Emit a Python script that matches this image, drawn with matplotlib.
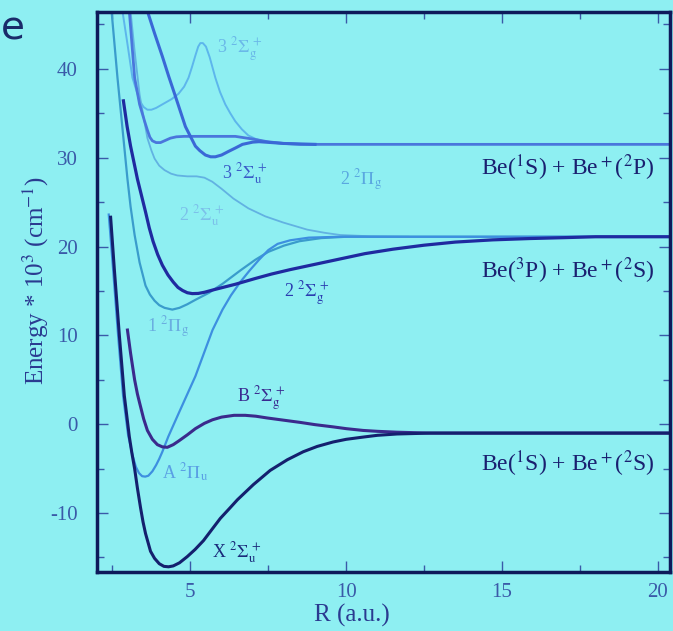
import matplotlib
matplotlib.use("Agg")
import matplotlib.pyplot as plt
from matplotlib.ticker import MultipleLocator

# potential curves of Be2+, R in a.u., energy in 10^3 cm^-1
X_R = [2.44, 2.56, 2.72, 2.88, 3.04, 3.12, 3.21, 3.30, 3.40, 3.48, 3.56, 3.72, 3.85, 4.0,
       4.15, 4.3, 4.45, 4.65, 4.90, 5.15, 5.42, 5.7, 5.96, 6.25, 6.51, 7.02, 7.56, 8.11,
       8.62, 9.07, 9.58, 10.0, 10.54, 11.0, 11.63, 12.7, 20.4]
X_E = [23.3, 17.4, 10.0, 3.2, -1.4, -3.2, -5.0, -7.2, -9.4, -11.0, -12.3, -14.3, -15.1, -15.7,
       -16.0, -16.05, -15.95, -15.6, -14.9, -14.1, -13.1, -11.8, -10.6, -9.5, -8.5, -6.8, -5.2, -4.0,
       -3.1, -2.5, -2.0, -1.7, -1.45, -1.25, -1.1, -1.0, -1.0]

A_R = [2.38, 2.52, 2.68, 2.84, 3.0, 3.15, 3.25, 3.35, 3.45, 3.55, 3.65, 3.78, 3.9, 4.0,
       4.10, 4.29, 4.62, 5.16, 5.71, 6.03, 6.3, 6.6, 6.9, 7.2, 7.5, 7.8, 8.2, 8.8, 9.8, 20.4]
A_E = [23.6, 17.4, 10.0, 3.2, -1.2, -3.6, -4.8, -5.5, -5.85, -5.9, -5.8, -5.3, -4.6, -3.9,
       -3.1, -1.4, 1.2, 5.4, 10.6, 12.9, 14.5, 16.0, 17.3, 18.5, 19.6, 20.3, 20.7, 21.0, 21.1, 21.1]

B_R = [2.98, 3.08, 3.21, 3.30, 3.37, 3.5, 3.62, 3.78, 3.94, 4.1, 4.26, 4.45, 4.62, 4.9,
       5.16, 5.45, 5.71, 6.0, 6.4, 6.76, 7.1, 7.47, 8.0, 8.53, 9.0, 9.58, 10.0, 10.54,
       11.0, 11.63, 12.7, 20.4]
B_E = [10.6, 8.0, 5.0, 3.4, 2.4, 0.6, -0.7, -1.7, -2.3, -2.55, -2.6, -2.3, -1.9, -1.2,
       -0.5, 0.1, 0.5, 0.8, 1.0, 1.0, 0.9, 0.7, 0.45, 0.2, -0.05, -0.3, -0.5, -0.7,
       -0.8, -0.9, -1.0, -1.0]

PIG1_R = [2.47, 2.66, 2.82, 2.98, 3.08, 3.21, 3.37, 3.56, 3.7, 3.85, 4.0, 4.17, 4.42, 4.65,
          4.9, 5.16, 5.6, 6.03, 6.6, 7.08, 7.5, 8.0, 8.5, 9.2, 10.0, 20.4]
PIG1_E = [46.5, 39.0, 33.3, 27.6, 24.5, 21.3, 18.2, 15.6, 14.6, 13.9, 13.4, 13.1, 12.9, 13.1,
          13.5, 14.0, 14.8, 15.8, 17.3, 18.5, 19.4, 20.1, 20.6, 20.95, 21.1, 21.1]

SGG2_R = [2.85, 2.97, 3.08, 3.30, 3.56, 3.68, 3.8, 3.95, 4.1, 4.28, 4.45, 4.6, 4.75, 4.9,
          5.06, 5.25, 5.45, 5.71, 6.1, 6.44, 7.08, 7.6, 8.2, 9.0, 9.8, 10.6, 11.5, 12.5,
          13.5, 14.7, 15.9, 17.0, 18.0, 20.4]
SGG2_E = [36.4, 33.5, 31.3, 27.6, 23.9, 22.1, 20.6, 19.1, 17.9, 16.8, 16.0, 15.4, 15.05, 14.8,
          14.7, 14.72, 14.85, 15.1, 15.45, 15.75, 16.4, 16.9, 17.4, 18.0, 18.6, 19.2, 19.7, 20.15,
          20.5, 20.75, 20.9, 21.0, 21.1, 21.1]

SGU2_R = [3.08, 3.21, 3.37, 3.62, 3.75, 3.85, 4.0, 4.17, 4.38, 4.58, 4.9, 5.2, 5.45, 5.7,
          6.0, 6.38, 6.86, 7.4, 7.98, 8.75, 9.3, 9.8, 10.8, 12.0]
SGU2_E = [46.5, 42.0, 37.1, 32.2, 30.8, 29.9, 29.1, 28.6, 28.2, 28.0, 27.9, 27.9, 27.75, 27.3,
          26.5, 25.4, 24.3, 23.4, 22.7, 21.9, 21.55, 21.3, 21.15, 21.1]

SGG3_R = [2.82, 2.98, 3.14, 3.37, 3.5, 3.62, 3.75, 3.9, 4.10, 4.4, 4.62, 4.8, 4.94, 5.05,
          5.16, 5.25, 5.32, 5.4, 5.5, 5.62, 5.8, 5.95, 6.12, 6.28, 6.44, 6.65, 6.86, 7.1,
          7.3, 7.65, 8.0, 9.0]
SGG3_E = [46.5, 42.8, 39.0, 36.4, 35.7, 35.4, 35.4, 35.6, 36.0, 36.6, 37.2, 38.0, 39.0, 40.2,
          41.5, 42.5, 42.9, 42.9, 42.5, 41.3, 39.0, 37.4, 36.0, 35.0, 34.1, 33.2, 32.5, 32.1,
          31.9, 31.7, 31.6, 31.5]

PIG2_R = [3.04, 3.21, 3.37, 3.53, 3.62, 3.70, 3.78, 3.9, 4.04, 4.2, 4.36, 4.55, 4.8, 5.5,
          6.44, 7.0, 7.47, 8.0, 8.53, 20.4]
PIG2_E = [46.5, 39.0, 36.0, 34.1, 33.1, 32.3, 31.9, 31.7, 31.7, 31.95, 32.2, 32.35, 32.4, 32.4,
          32.4, 32.1, 31.8, 31.6, 31.5, 31.5]

SGU3_R = [3.62, 3.85, 4.10, 4.30, 4.52, 4.84, 5.16, 5.3, 5.48, 5.65, 5.8, 6.0, 6.22, 6.45,
          6.67, 7.0, 7.2, 8.0, 9.0]
SGU3_E = [46.5, 44.0, 41.4, 39.2, 36.9, 33.5, 31.3, 30.8, 30.3, 30.1, 30.1, 30.3, 30.7, 31.1,
          31.5, 31.75, 31.8, 31.6, 31.5]

STATE_LABELS = [r"3 $^2\Sigma_\mathrm{g}^{\,+}$", r"3 $^2\Sigma_\mathrm{u}^{\,+}$",
                r"2 $^2\Pi_\mathrm{g}$", r"2 $^2\Sigma_\mathrm{u}^{\,+}$",
                r"2 $^2\Sigma_\mathrm{g}^{\,+}$", r"1 $^2\Pi_\mathrm{g}$",
                r"B $^2\Sigma_\mathrm{g}^{\,+}$", r"A $^2\Pi_\mathrm{u}$",
                r"X $^2\Sigma_\mathrm{u}^{\,+}$"]
STATE_R = [5.85, 6.0, 9.8, 4.65, 8.0, 3.62, 6.5, 4.1, 5.7]
STATE_E = [42.2, 28.2, 27.5, 23.5, 14.8, 10.9, 2.9, -5.5, -14.4]

LIMIT_LABELS = [r"Be($^1$S) + Be$^+$($^2$P)", r"Be($^3$P) + Be$^+$($^2$S)",
                r"Be($^1$S) + Be$^+$($^2$S)"]
LIMIT_E = [28.9, 17.3, -4.5]

bg = "#8eeff2"
plt.rcParams["font.family"] = ["Liberation Serif", "DejaVu Serif"]
plt.rcParams["mathtext.fontset"] = "stix"
plt.rcParams["axes.unicode_minus"] = False

fig = plt.figure(figsize=(6.73, 6.31), dpi=100, facecolor=bg)
ax = fig.add_axes([0.144, 0.094, 0.852, 0.887], facecolor=bg)

ax.plot(SGG3_R, SGG3_E, color="#5db6ec", lw=1.4)
ax.plot(SGU2_R, SGU2_E, color="#62b2e2", lw=1.3)
ax.plot(PIG2_R, PIG2_E, color="#4a76dc", lw=2.0)
ax.plot(SGU3_R, SGU3_E, color="#3a68d6", lw=2.2)
ax.plot(PIG1_R, PIG1_E, color="#3a9ccc", lw=1.6)
ax.plot(A_R, A_E, color="#3d8fe0", lw=1.6)
ax.plot(SGG2_R, SGG2_E, color="#1f2aa0", lw=2.3)
ax.plot(B_R, B_E, color="#3b2a8c", lw=2.2)
ax.plot(X_R, X_E, color="#14206e", lw=2.2)

state_colors = ["#6ab8e8", "#3a5cc8", "#5aa8e0", "#7cc0ea", "#2a3cb0",
                "#6aaee0", "#3a2a90", "#5aa0e4", "#1a2a7a"]
for lab, r, e, c in zip(STATE_LABELS, STATE_R, STATE_E, state_colors):
    ax.text(r, e, lab, color=c, fontsize=13, va="center", ha="left")

for lab, e in zip(LIMIT_LABELS, LIMIT_E):
    ax.text(19.9, e, lab, color="#1a2070", fontsize=17, va="center", ha="right")

ax.set_xlim(2.0, 20.4)
ax.set_ylim(-16.6, 46.4)
ax.xaxis.set_major_locator(MultipleLocator(5))
ax.xaxis.set_minor_locator(MultipleLocator(2.5))
ax.yaxis.set_major_locator(MultipleLocator(10))
ax.yaxis.set_minor_locator(MultipleLocator(5))
ax.tick_params(which="both", direction="in", top=True, right=True,
               color="#3a5aa8", labelcolor="#3a5aa8", labelsize=15)
ax.tick_params(which="major", length=8, width=1.0)
ax.tick_params(which="minor", length=5, width=1.0)
ax.tick_params(axis="y", which="major", pad=14)
ax.tick_params(axis="x", which="major", pad=8)
ax.set_xticks([5, 10, 15, 20])
ax.set_yticks([-10, 0, 10, 20, 30, 40])

for s in ax.spines.values():
    s.set_color("#0d1a5a")
    s.set_linewidth(2.5)

ax.set_ylabel(r"Energy * 10$^3$ (cm$^{-1}$)", color="#2a3a90", fontsize=18)
ax.yaxis.set_label_coords(-0.08, 0.52)
fig.text(0.523, 0.025, "R (a.u.)", color="#2a3a90", fontsize=18, ha="center", va="center")
fig.text(0.002, 0.955, "e", color="#1a2a6a", fontsize=28, family="DejaVu Sans",
         ha="left", va="center")

fig.savefig("out.png", dpi=100, facecolor=bg)
